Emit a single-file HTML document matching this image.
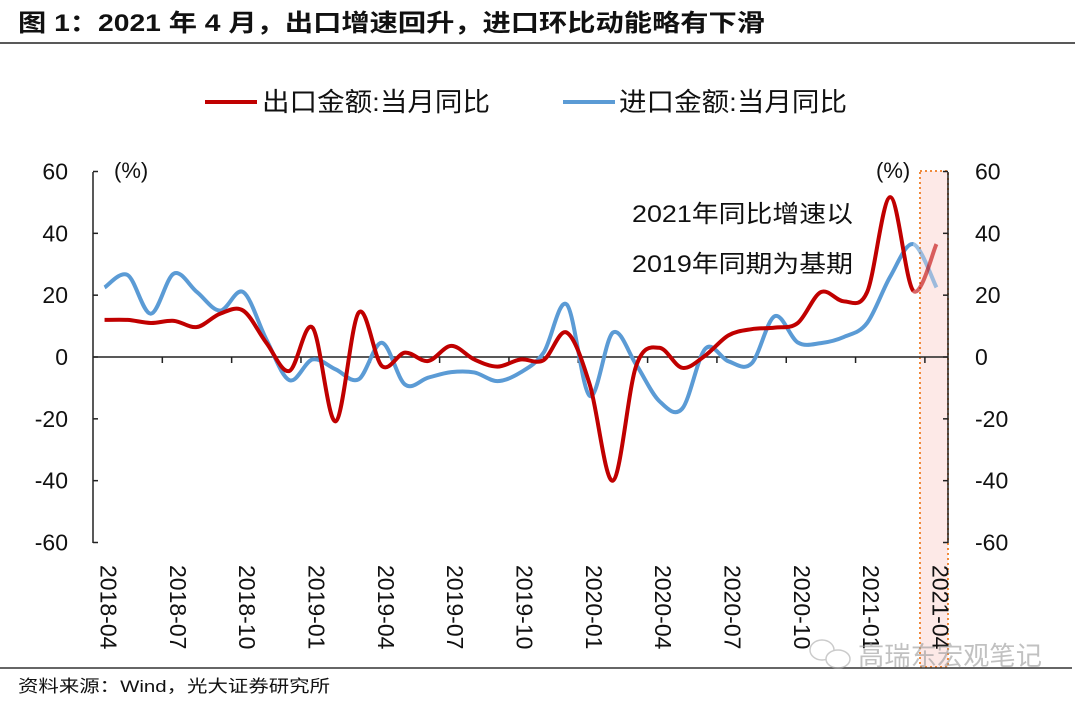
<!DOCTYPE html>
<html><head><meta charset="utf-8">
<style>
body{margin:0;width:1080px;height:705px;background:#fff;overflow:hidden;font-family:"Liberation Sans","Noto Sans CJK SC",sans-serif;}
svg text{font-family:"Liberation Sans","Noto Sans CJK SC",sans-serif;}
</style></head><body>
<svg id="chart" width="1080" height="705" viewBox="0 0 1080 705">
<text x="18" y="31" font-size="24" font-weight="bold" fill="#111" textLength="747" lengthAdjust="spacingAndGlyphs">图 1：2021 年 4 月，出口增速回升，进口环比动能略有下滑</text>
<line x1="0" y1="43" x2="1075" y2="43" stroke="#222" stroke-width="1.5"/>
<g>
<line x1="205" y1="102" x2="257" y2="102" stroke="#c00000" stroke-width="4"/>
<text x="262" y="111" font-size="26" fill="#111" textLength="228" lengthAdjust="spacingAndGlyphs">出口金额:当月同比</text>
<line x1="563" y1="102" x2="615" y2="102" stroke="#5b9bd5" stroke-width="4"/>
<text x="619" y="111" font-size="26" fill="#111" textLength="228" lengthAdjust="spacingAndGlyphs">进口金额:当月同比</text>
</g>
<rect x="920" y="171" width="28" height="496" fill="#fde9e7" stroke="#f08a3c" stroke-width="2" stroke-dasharray="2,3"/>
<g id="axes"></g>
<g id="series"></g>
<text x="632" y="222" font-size="24" fill="#111" textLength="221" lengthAdjust="spacingAndGlyphs">2021年同比增速以</text>
<text x="632" y="272" font-size="24" fill="#111" textLength="221" lengthAdjust="spacingAndGlyphs">2019年同期为基期</text>
<text x="114" y="178" font-size="22" fill="#111">(%)</text>
<text x="876" y="178" font-size="22" fill="#111">(%)</text>
<line x1="0" y1="668" x2="1072" y2="668" stroke="#333" stroke-width="1.5"/>
<g opacity="0.6">
<ellipse cx="822" cy="650" rx="12" ry="10" fill="none" stroke="#aaa" stroke-width="1.5"/>
<ellipse cx="838" cy="659" rx="12" ry="9" fill="#fff" stroke="#aaa" stroke-width="1.5"/>
<text x="858" y="665" font-size="26" fill="#999" textLength="184" lengthAdjust="spacingAndGlyphs">高瑞东宏观笔记</text>
</g>
<text x="18" y="692" font-size="17" fill="#111" textLength="312" lengthAdjust="spacingAndGlyphs">资料来源：Wind，光大证券研究所</text>
</svg>
<script>
const months = ["2018-04","2018-05","2018-06","2018-07","2018-08","2018-09","2018-10","2018-11","2018-12","2019-01","2019-02","2019-03","2019-04","2019-05","2019-06","2019-07","2019-08","2019-09","2019-10","2019-11","2019-12","2020-01","2020-02","2020-03","2020-04","2020-05","2020-06","2020-07","2020-08","2020-09","2020-10","2020-11","2020-12","2021-01","2021-02","2021-03","2021-04"];
const exportYoY = [12,12,11,11.7,9.7,14,15,4.6,-4.5,9.5,-20.8,14.4,-2.9,1.4,-1.3,3.6,-0.8,-3.1,-0.8,-1,7.9,-9,-40,-3,3,-3.5,0.5,7,9,9.5,11,21,18,21,51.7,21.4,36.5];
const importYoY = [22.5,26.5,14,27,21,15,21,5.7,-7.5,-0.8,-4,-7.2,4.6,-8.9,-6.7,-4.9,-5,-7.8,-5,1.4,17,-12.6,7.9,-2.4,-14.2,-16.7,2.7,-1.4,-2.1,13.2,4.7,4.5,6.5,11,26,36.5,22.5];
const yTicks = [60,40,20,0,-20,-40,-60];
const xTickLabels = ["2018-04","2018-07","2018-10","2019-01","2019-04","2019-07","2019-10","2020-01","2020-04","2020-07","2020-10","2021-01","2021-04"];

const NS="http://www.w3.org/2000/svg";
const L=93,R=948,T=172,B=543;
const step=(R-L)/months.length;
const xs=i=>L+step*(i+0.5);
const ys=v=>357-(v)*(B-T)/120;
function mk(tag,attrs,parent){const e=document.createElementNS(NS,tag);for(const k in attrs)e.setAttribute(k,attrs[k]);parent.appendChild(e);return e;}
const axes=document.getElementById('axes');
let e;
e=mk('line',{x1:L,y1:T,x2:L,y2:B,stroke:'#222','stroke-width':1.5},axes);


e=mk('line',{x1:R,y1:T,x2:R,y2:B,stroke:'#222','stroke-width':1.5},axes);


e=mk('line',{x1:L,y1:ys(0),x2:R,y2:ys(0),stroke:'#222','stroke-width':1.5},axes);


yTicks.forEach(v=>{
  const y=ys(v);
  e=mk('line',{x1:L,y1:y,x2:L+5,y2:y,stroke:'#222','stroke-width':1.5},axes);
  
  
  e=mk('line',{x1:R-5,y1:y,x2:R,y2:y,stroke:'#222','stroke-width':1.5},axes);
  
  
  e=mk('text',{x:68,y:y+8,'font-size':23,'text-anchor':'end',fill:'#111'},axes);e.textContent=v;
  
  
  e=mk('text',{x:975,y:y+8,'font-size':23,fill:'#111'},axes);e.textContent=v;
  
  
});
xTickLabels.forEach((lab,k)=>{
  const i=months.indexOf(lab);
  const tx=L+step*i;
  if(k>0){e=mk('line',{x1:tx,y1:ys(0),x2:tx,y2:ys(0)+6,stroke:'#222','stroke-width':1.5},axes);
  
  }
  const cx=xs(i)-4;
  e=mk('text',{x:0,y:0,'font-size':23,fill:'#111',transform:`translate(${cx},565) rotate(90)`},axes);e.textContent=lab;
  
  
});
function spline(vals,a,b){
  const p=vals.map((v,i)=>[xs(i),ys(v)]);
  let d=`M${p[a][0]},${p[a][1]}`;
  for(let i=a;i<b;i++){
    const p0=p[Math.max(i-1,0)],p1=p[i],p2=p[i+1],p3=p[Math.min(i+2,p.length-1)];
    const c1=[p1[0]+(p2[0]-p0[0])/6,p1[1]+(p2[1]-p0[1])/6];
    const c2=[p2[0]-(p3[0]-p1[0])/6,p2[1]-(p3[1]-p1[1])/6];
    d+=`C${c1[0]},${c1[1]} ${c2[0]},${c2[1]} ${p2[0]},${p2[1]}`;
  }
  return d;
}
const sg=document.getElementById('series');
const n=months.length;
[[importYoY,'#5b9bd5','import'],[exportYoY,'#c00000','export']].forEach(([vals,col,nm])=>{
  e=mk('path',{d:spline(vals,0,n-2),fill:'none',stroke:col,'stroke-width':4,'stroke-linejoin':'round'},sg);
  
  
  e=mk('path',{d:spline(vals,n-2,n-1),fill:'none',stroke:col,'stroke-width':4,opacity:0.6},sg);
  
  
});
</script>
</body></html>
